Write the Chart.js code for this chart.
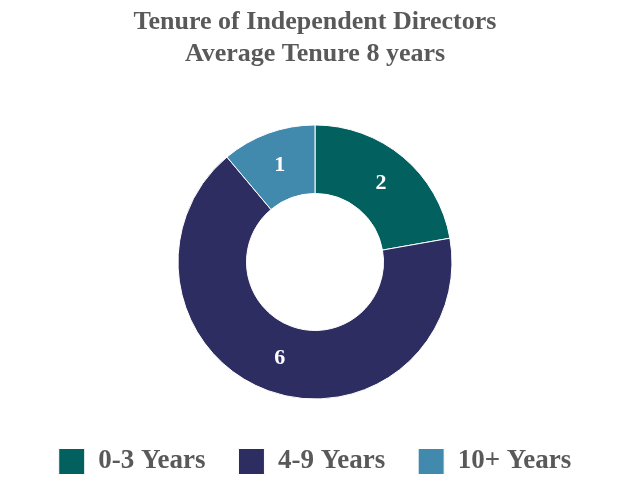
<!DOCTYPE html>
<html>
<head>
<meta charset="utf-8">
<script src="https://cdn.jsdelivr.net/npm/chart.js@4/dist/chart.umd.min.js"></script>
<style>
	html, body { margin: 0; padding: 0; background: #ffffff; }
	#wrap { width: 630px; height: 486px; }
</style>
</head>
<body>
<div id="wrap"><canvas id="tenureChart" width="630" height="486"></canvas></div>
<script>
const categories = ['0-3 Years', '4-9 Years', '10+ Years'];
const directorCounts = [2, 6, 1];
const sliceColors = ['#02605F', '#2E2D62', '#428AAD'];
const titleLines = ['Tenure of Independent Directors', 'Average Tenure 8 years'];

// draws the count in the middle of each slice
const sliceLabels = {
	id: 'sliceLabels',
	afterDatasetsDraw(chart) {
		const ctx = chart.ctx;
		const meta = chart.getDatasetMeta(0);
		ctx.save();
		ctx.fillStyle = '#FFFFFF';
		ctx.font = 'bold 22px "Liberation Serif"';
		ctx.textAlign = 'center';
		ctx.textBaseline = 'middle';
		meta.data.forEach((arc, i) => {
			const pos = arc.tooltipPosition();
			ctx.fillText(String(chart.data.datasets[0].data[i]), pos.x, pos.y);
		});
		ctx.restore();
	}
};

const canvas = document.getElementById('tenureChart');
new Chart(canvas.getContext('2d'), {
	type: 'doughnut',
	data: {
		labels: categories,
		datasets: [
			{
				data: directorCounts,
				backgroundColor: sliceColors,
				borderColor: '#FFFFFF',
				borderWidth: 1,
			},
		],
	},
	options: {
		responsive: false,
		animation: false,
		cutout: '50%',
		radius: 137,
		layout: {
			padding: { top: 0, bottom: 1, left: 0, right: 0 },
		},
		plugins: {
			title: {
				display: true,
				text: titleLines,
				color: '#595959',
				font: {
					family: '"Liberation Serif"',
					size: 26,
					weight: 'bold',
					lineHeight: 1.23,
				},
				padding: { top: 6, bottom: 39 },
			},
			legend: {
				position: 'bottom',
				labels: {
					boxWidth: 26,
					boxHeight: 26,
					padding: 33,
					color: '#595959',
					font: {
						family: '"Liberation Serif"',
						size: 27,
						weight: 'bold',
					},
				},
			},
			tooltip: { enabled: false },
		},
	},
	plugins: [sliceLabels],
});
</script>
</body>
</html>
